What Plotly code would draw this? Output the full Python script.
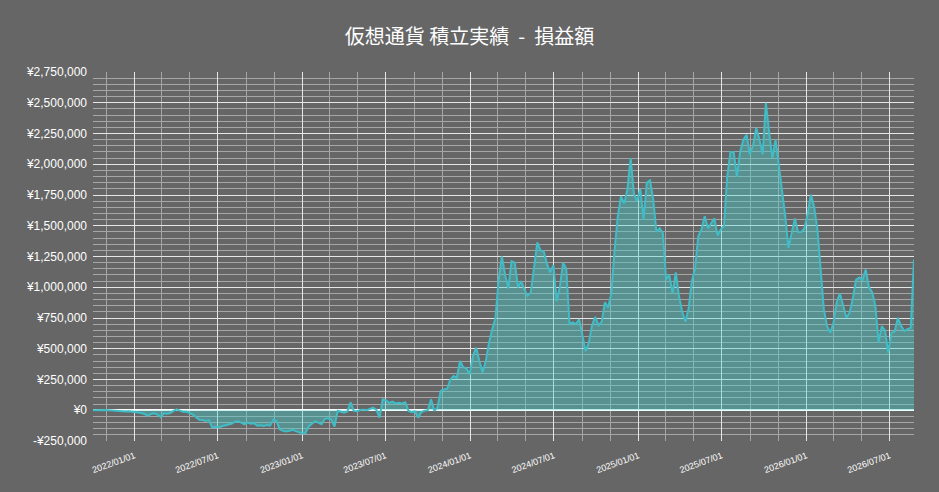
import pandas as pd
import plotly.graph_objects as go

# weekly samples of cumulative profit/loss (JPY)
start_date = "2021-10-03"
pl_values_k = [
    0, 2, 3, 1, 2, 0, -3, -5, -4, -8,
    -10, -9, -14, -16, -19, -22, -30, -46, -30, -24,
    -35, -55, -25, -28, -22, -5, 8, -3, -12, -10,
    -20, -35, -57, -78, -80, -87, -80, -140, -135, -140,
    -130, -125, -114, -110, -95, -90, -100, -114, -100, -110,
    -105, -125, -122, -128, -120, -125, -78, -90, -154, -168,
    -172, -165, -160, -170, -181, -189, -185, -132, -110, -90,
    -100, -114, -70, -65, -73, -132, -5, -15, -20, -10,
    65, -5, -8, 2, 5, 0, 10, 22, 5, -60,
    89, 80, 60, 70, 55, 60, 55, 65, -5, -15,
    -10, -60, -15, -3, 0, 89, -5, 22, 157, 170,
    175, 250, 278, 265, 400, 350, 340, 290, 441, 509,
    400, 308, 400, 550, 657, 750, 1063, 1250, 1100, 990,
    1212, 1200, 1000, 1050, 980, 930, 960, 1150, 1364, 1300,
    1290, 1190, 1120, 1180, 887, 1000, 1200, 1150, 700, 714,
    700, 740, 600, 480, 550, 690, 760, 690, 720, 877,
    836, 950, 1300, 1577, 1740, 1680, 1800, 2051, 1760, 1700,
    1800, 1550, 1850, 1870, 1713, 1450, 1480, 1440, 1063, 1100,
    950, 1120, 928, 800, 720, 830, 1050, 1150, 1415, 1470,
    1577, 1480, 1520, 1560, 1420, 1470, 1500, 1900, 2100, 2100,
    1900, 2100, 2200, 2240, 2080, 2150, 2295, 2200, 2080, 2500,
    2260, 2050, 2200, 2000, 1800, 1580, 1320, 1450, 1560, 1450,
    1450, 1480, 1600, 1753, 1650, 1470, 1150, 820, 684, 630,
    712, 880, 950, 850, 752, 793, 910, 1060, 1080, 1060,
    1144, 1000, 960, 850, 550, 684, 650, 468, 631, 640,
    752, 684, 644, 660, 670, 1225,
]
pl_values = [v * 1000 for v in pl_values_k]
dates = pd.date_range(start_date, periods=len(pl_values), freq="7D")

y_tick_vals = [-250000, 0, 250000, 500000, 750000, 1000000, 1250000, 1500000,
               1750000, 2000000, 2250000, 2500000, 2750000]
y_tick_text = ["-¥250,000", "¥0", "¥250,000", "¥500,000", "¥750,000", "¥1,000,000",
               "¥1,250,000", "¥1,500,000", "¥1,750,000", "¥2,000,000", "¥2,250,000",
               "¥2,500,000", "¥2,750,000"]

title_text = "仮想通貨 積立実績\u00a0\u00a0-\u00a0\u00a0損益額"

fig = go.Figure()
fig.add_trace(go.Scatter(
    x=dates, y=pl_values, mode="lines",
    line=dict(color="#3fbcc6", width=2),
    fill="tozeroy", fillcolor="rgba(70,210,210,0.40)",
    hoverinfo="x+y", showlegend=False,
))

fig.update_layout(
    width=939, height=492,
    paper_bgcolor="#666666", plot_bgcolor="#666666",
    margin=dict(l=93, r=25, t=72, b=51),
    font=dict(family="Noto Sans CJK JP, Noto Sans, sans-serif", color="#ffffff"),
    title=dict(text=title_text, x=0.5, xanchor="center", y=0.925, yanchor="middle",
               font=dict(size=20, color="#ffffff")),
    xaxis=dict(
        type="date", tick0="2022-01-01", dtick="M6", tickformat="%Y/%m/%d",
        tickangle=-20, tickfont=dict(size=9, color="#ffffff", family="Liberation Sans, Arial"),
        ticklabelstandoff=7,
        showgrid=True, gridcolor="#e6e6e6", gridwidth=1,
        minor=dict(dtick="M2", tick0="2022-01-01", showgrid=True, gridcolor="#a6a6a6", gridwidth=1),
        showline=False, zeroline=False, ticks="",
        range=[dates[0], dates[-1]],
    ),
    yaxis=dict(
        range=[-250000, 2750000], tickvals=y_tick_vals, ticktext=y_tick_text,
        tickfont=dict(size=12, color="#ffffff", family="Liberation Sans, Arial"),
        ticklabelstandoff=5,
        showgrid=True, gridcolor="#e6e6e6", gridwidth=1,
        minor=dict(dtick=50000, tick0=0, showgrid=True, gridcolor="#a6a6a6", gridwidth=1),
        zeroline=True, zerolinecolor="#ffffff", zerolinewidth=1.5,
        showline=False, ticks="",
    ),
)

fig.write_html(
    "out.html",
    config={"displayModeBar": False},
    post_script="document.body.style.margin='0';document.body.style.background='#666666';",
)
